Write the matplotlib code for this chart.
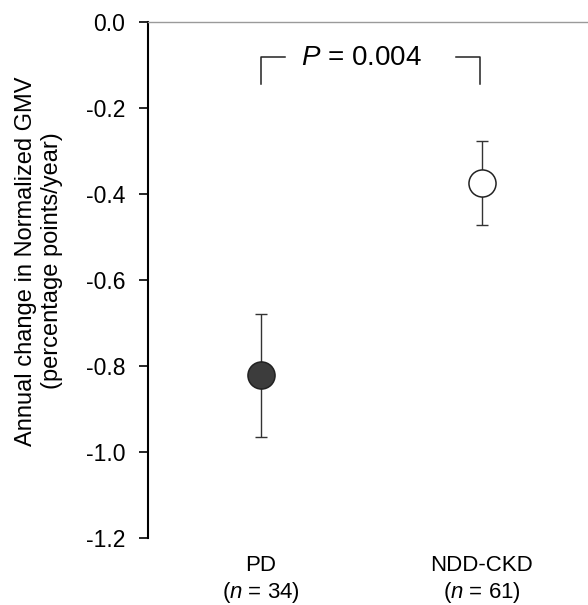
import matplotlib.pyplot as plt

plt.rcParams["font.family"] = ["Liberation Sans", "DejaVu Sans"]
plt.rcParams["mathtext.fontset"] = "custom"
plt.rcParams["mathtext.it"] = "Liberation Sans:italic"
plt.rcParams["mathtext.rm"] = "Liberation Sans"

# Group means and error bar limits (percentage points/year)
groups = ["PD", "NDD-CKD"]
n_sizes = [34, 61]
means = [-0.822, -0.375]
upper = [-0.680, -0.277]
lower = [-0.965, -0.473]
p_text = "0.004"

positions = [1, 2]
face_colors = ["#3c3c3c", "white"]

fig = plt.figure(figsize=(5.88, 6.05), dpi=100)
ax = fig.add_axes([148 / 588, 1 - 538 / 605, 1 - 148 / 588, (538 - 22) / 605])

for x, m, hi, lo, fc in zip(positions, means, upper, lower, face_colors):
    ax.errorbar([x], [m], yerr=[[m - lo], [hi - m]], fmt="none",
                ecolor="#333333", elinewidth=1.0, capsize=4.5, capthick=1.0, zorder=2)
    ax.plot([x], [m], "o", markersize=19.5, markerfacecolor=fc,
            markeredgecolor="#222222", markeredgewidth=1.1, zorder=3)

# significance bracket
ax.plot([1.0, 1.0, 1.11], [-0.144, -0.081, -0.081], color="#222222", lw=1.1)
ax.plot([1.885, 1.99, 1.99], [-0.081, -0.081, -0.144], color="#222222", lw=1.1)
ax.text(1.455, -0.084, "$P$ = " + p_text, ha="center", va="center", fontsize=20)

ax.set_ylim(-1.2, 0.0)
ax.set_xlim(0.49, 2.48)
ax.set_yticks([0.0, -0.2, -0.4, -0.6, -0.8, -1.0, -1.2])
ax.set_yticklabels(["0.0", "-0.2", "-0.4", "-0.6", "-0.8", "-1.0", "-1.2"])
ax.tick_params(axis="y", direction="out", length=6.5, width=1.2, pad=10, labelsize=16.5)
ax.set_xticks(positions)
ax.set_xticklabels([g + "\n($n$ = %d)" % n for g, n in zip(groups, n_sizes)],
                   fontsize=16, linespacing=1.25)
ax.tick_params(axis="x", length=0, pad=12)

ax.spines["bottom"].set_visible(False)
ax.spines["right"].set_visible(False)
ax.spines["left"].set_linewidth(1.5)
ax.spines["top"].set_color("#9a9a9a")
ax.spines["top"].set_linewidth(1.0)

fig.text(39 / 588, 1 - 261 / 605,
         "Annual change in Normalized GMV\n(percentage points/year)",
         rotation=90, ha="center", va="center", fontsize=17, linespacing=1.2)

fig.savefig("out.png", dpi=100)
